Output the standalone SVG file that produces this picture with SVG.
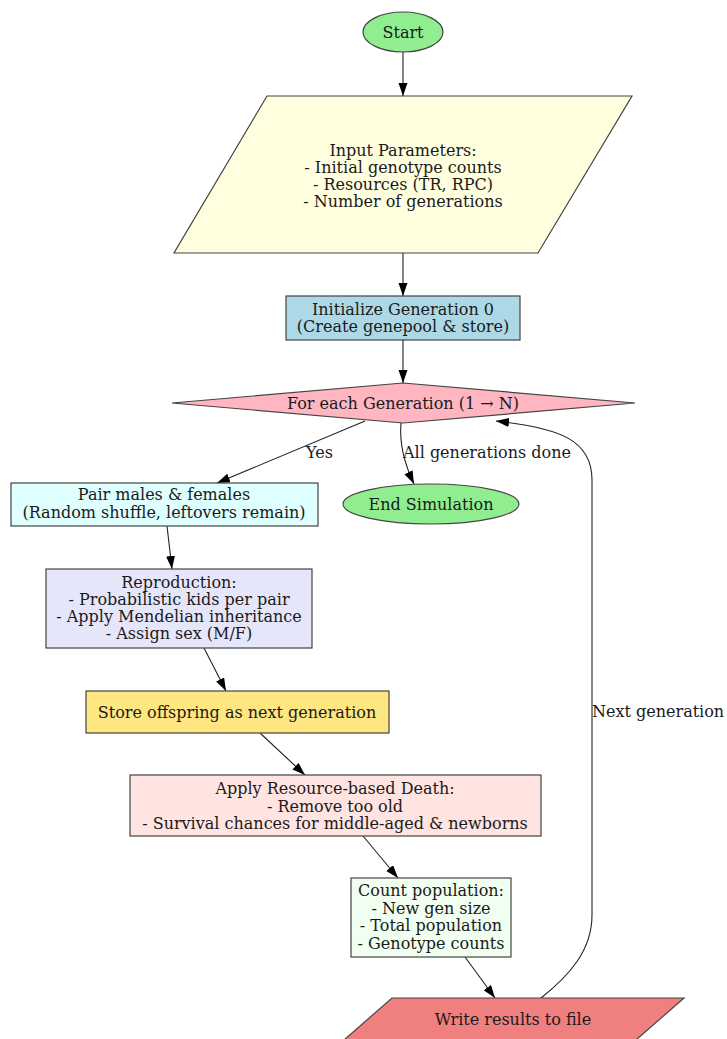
<svg xmlns="http://www.w3.org/2000/svg" width="727" height="1039" viewBox="0 0 727 1039">
<style>
text{font-family:"DejaVu Serif","Liberation Serif",serif;font-size:16px;fill:#1a1a1a;text-anchor:middle}
.lbl{text-anchor:start}
.n{stroke:#444;stroke-width:1.2}
.e{fill:none;stroke:#222;stroke-width:1.1;marker-end:url(#ah)}
</style>
<defs>
<marker id="ah" markerUnits="userSpaceOnUse" markerWidth="13" markerHeight="10" refX="13" refY="4.5" orient="auto">
<path d="M0,0 L13,4.5 L0,9 z" fill="#000"/>
</marker>
</defs>
<rect width="727" height="1039" fill="#fff"/>
<g id="edges">
<path class="e" d="M403,52 L403,96"/>
<path class="e" d="M403,253 L403,296"/>
<path class="e" d="M403,340 L403,383"/>
<path class="e" d="M365,421 L217,483"/>
<path class="e" d="M401,423 C399,445 405,465 414,484"/>
<path class="e" d="M167,526 L172,569"/>
<path class="e" d="M204,648 L226,691"/>
<path class="e" d="M260,733 L305,775"/>
<path class="e" d="M363,836 L398,878"/>
<path class="e" d="M465,957 L495,998"/>
<path class="e" d="M541,998 C570,975 592,950 592,915 L592,480 C592,440 560,428 496,421"/>
<text class="lbl" x="306" y="458">Yes</text>
<text class="lbl" x="403" y="458">All generations done</text>
<text class="lbl" x="592" y="717">Next generation</text>
</g>
<g id="start">
<ellipse class="n" cx="403" cy="32" rx="40" ry="20" fill="#90EE90"/>
<text x="403" y="38">Start</text>
</g>
<g id="input">
<polygon class="n" points="267,96 632,96 538,253 174,253" fill="#FFFFE0"/>
<text x="403" y="156">Input Parameters:</text>
<text x="403" y="173">- Initial genotype counts</text>
<text x="403" y="190">- Resources (TR, RPC)</text>
<text x="403" y="207">- Number of generations</text>
</g>
<g id="init">
<rect class="n" x="286" y="296" width="234" height="44" fill="#ADD8E6"/>
<text x="403" y="315">Initialize Generation 0</text>
<text x="403" y="332">(Create genepool &amp; store)</text>
</g>
<g id="loop">
<polygon class="n" points="403,383 635,403 403,423 172,403" fill="#FFB6C1"/>
<text x="403" y="409">For each Generation (1 → N)</text>
</g>
<g id="pair">
<rect class="n" x="11" y="483" width="307" height="43" fill="#E0FFFF"/>
<text x="164" y="500">Pair males &amp; females</text>
<text x="164" y="518">(Random shuffle, leftovers remain)</text>
</g>
<g id="end">
<ellipse class="n" cx="431" cy="504" rx="88" ry="20" fill="#90EE90"/>
<text x="431" y="510">End Simulation</text>
</g>
<g id="repro">
<rect class="n" x="46" y="569" width="266" height="79" fill="#E6E6FA"/>
<text x="179" y="588">Reproduction:</text>
<text x="179" y="605">- Probabilistic kids per pair</text>
<text x="179" y="622">- Apply Mendelian inheritance</text>
<text x="179" y="639">- Assign sex (M/F)</text>
</g>
<g id="store">
<rect class="n" x="86" y="691" width="303" height="42" fill="#FFE680"/>
<text x="237" y="718">Store offspring as next generation</text>
</g>
<g id="death">
<rect class="n" x="130" y="775" width="411" height="61" fill="#FFE4E1"/>
<text x="335" y="794">Apply Resource-based Death:</text>
<text x="335" y="812">- Remove too old</text>
<text x="335" y="829">- Survival chances for middle-aged &amp; newborns</text>
</g>
<g id="count">
<rect class="n" x="351" y="878" width="160" height="79" fill="#F0FFF0"/>
<text x="431" y="896">Count population:</text>
<text x="431" y="914">- New gen size</text>
<text x="431" y="931">- Total population</text>
<text x="431" y="949">- Genotype counts</text>
</g>
<g id="write">
<polygon class="n" points="392,998 684,998 636,1040 344,1040" fill="#F08080"/>
<text x="513" y="1025">Write results to file</text>
</g>
</svg>
